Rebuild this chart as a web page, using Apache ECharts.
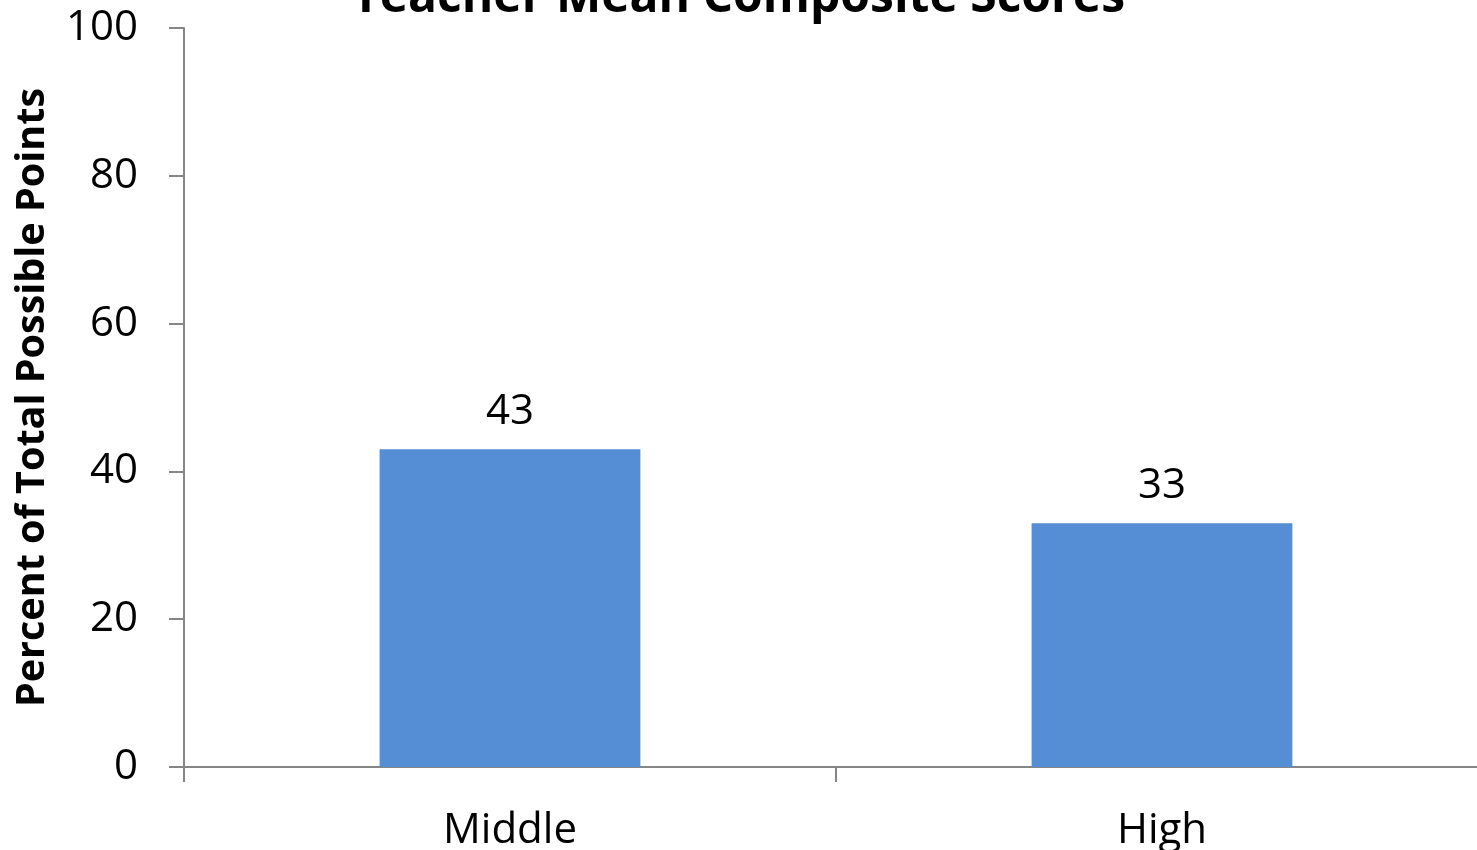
<!DOCTYPE html>
<html>
<head>
<meta charset="utf-8">
<script src="https://cdn.jsdelivr.net/npm/echarts@6/dist/echarts.min.js"></script>
<style>
  html, body { margin: 0; padding: 0; background: #ffffff; }
  #chart { width: 1477px; height: 850px; }
</style>
</head>
<body>
<div id="chart"></div>
<script>
// School levels and mean composite scores (percent of total possible points)
const categories = ['Middle', 'High'];
const meanScores = [43, 33];
const yTicks = { min: 0, max: 100, interval: 20 };

const FONT = 'Open Sans';
const chart = echarts.init(document.getElementById('chart'), null, { renderer: 'canvas' });

chart.setOption({
  backgroundColor: '#ffffff',
  animation: false,
  title: {
    text: 'Teacher Mean Composite Scores',
    left: 'center',
    top: -31,
    textStyle: { fontFamily: FONT, fontWeight: 'bold', fontSize: 48, color: '#000000' }
  },
  // the plot area runs a little past the right edge of the page
  grid: { left: 184, top: 28, width: 1304, height: 739, containLabel: false, outerBoundsMode: 'none' },
  xAxis: {
    type: 'category',
    data: categories,
    axisLine: { lineStyle: { color: '#868686', width: 2 } },
    axisTick: { show: true, length: 15, lineStyle: { color: '#868686', width: 2 } },
    axisLabel: { fontFamily: FONT, fontSize: 42, color: '#000000', margin: 43 }
  },
  yAxis: {
    type: 'value',
    min: yTicks.min,
    max: yTicks.max,
    interval: yTicks.interval,
    name: 'Percent of Total Possible Points',
    nameLocation: 'middle',
    nameGap: 131,
    nameRotate: 90,
    nameTextStyle: { fontFamily: FONT, fontWeight: 'bold', fontSize: 39.5, color: '#000000' },
    axisLine: { show: true, lineStyle: { color: '#868686', width: 2 } },
    axisTick: { show: true, length: 15, lineStyle: { color: '#868686', width: 2 } },
    splitLine: { show: false },
    axisLabel: { fontFamily: FONT, fontSize: 42, color: '#000000', margin: 46 }
  },
  series: [{
    type: 'bar',
    data: meanScores,
    barWidth: '40%',
    itemStyle: { color: '#558ED5' },
    label: {
      show: true,
      position: 'top',
      distance: 16,
      fontFamily: FONT,
      fontSize: 42,
      color: '#000000'
    }
  }]
});
</script>
</body>
</html>
